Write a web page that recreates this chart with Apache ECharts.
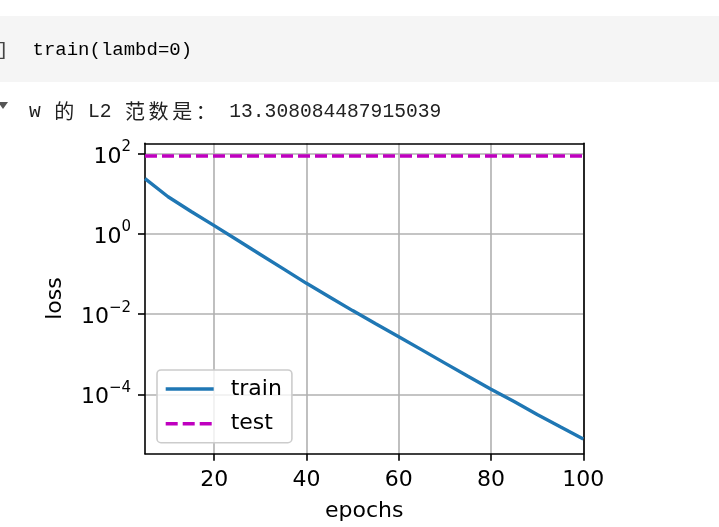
<!DOCTYPE html>
<html><head><meta charset="utf-8">
<script src="https://cdn.jsdelivr.net/npm/echarts@6/dist/echarts.min.js"></script>
<style>html,body{margin:0;padding:0;background:#fff;}#c{width:719px;height:527px;}</style>
</head><body><div id="c"></div>
<script>
// ---- data ----
const epochs = [5,10,15,20,25,30,35,40,45,50,55,60,65,70,75,80,85,90,95,100];
const trainLoss = [24.0,8.51,3.63,1.62,0.708,0.309,0.135,0.0589,0.0269,0.0123,0.00575,0.00275,0.00129,0.000603,0.000282,0.000135,0.0000661,0.0000316,0.0000155,0.00000776];
const testLoss = [88.4,88.2,88.1,88.1,88.0,88.0,88.0,88.0,88.0,88.0,88.0,88.0,88.0,88.0,88.0,88.0,88.0,88.0,88.0,88.0];
const seriesNames = ['train','test'];
const xTickValues = [20,40,60,80,100];
const yTickExponents = [-4,-2,0,2];
const xRange = [5,100];
const yRange = [3.32e-6, 182.8];
const codeLine = ['train','(','lambd=','0',')'];
const outputText = 'w 的 L2 范数是： 13.308084487915039';

// ---- chart ----
const FONT = 'DejaVu Sans';
const MONO = '"Liberation Mono", "DejaVu Sans Mono", monospace';
const CJK = '"Noto Sans CJK SC", sans-serif';
const chart = echarts.init(document.getElementById('c'));
const lx = Math.log10(yRange[0]), hx = Math.log10(yRange[1]);

// output line laid out on a half-width / full-width character grid
const HALF = 11.78;
const outGraphics = [];
let cx = 29;
for (const ch of outputText) {
  const full = ch.charCodeAt(0) > 0x2e80;
  if (ch !== ' ') {
    if (full) {
      outGraphics.push({type: 'text', x: cx + (2 * HALF - 20) / 2, y: 111,
        style: {text: ch, font: '20px ' + CJK, fill: '#222', verticalAlign: 'middle'}});
    } else {
      outGraphics.push({type: 'text', x: cx, y: 112,
        style: {text: ch, font: '19.63px ' + MONO, fill: '#222', verticalAlign: 'middle'}});
    }
  }
  cx += full ? 2 * HALF : HALF;
}

const option = {
  animation: false,
  backgroundColor: '#fff',
  grid: {left: 145, top: 143.3, width: 438.3, height: 310.4, containLabel: false, outerBoundsMode: 'none',
         show: false},
  xAxis: [{
    type: 'value', position: 'bottom', min: xRange[0], max: xRange[1],
    name: 'epochs', nameLocation: 'middle', nameGap: 47,
    nameTextStyle: {fontFamily: FONT, fontSize: 22, color: '#000'},
    axisLine: {show: true, onZero: false, lineStyle: {color: '#000', width: 1.6}},
    axisTick: {show: true, inside: false, length: 7, customValues: xTickValues, lineStyle: {color: '#000', width: 1.6}},
    axisLabel: {show: true, margin: 16, customValues: xTickValues, fontFamily: FONT, fontSize: 22, color: '#000'},
    splitLine: {show: true, lineStyle: {color: '#b0b0b0', width: 1.6}}
  }, {
    type: 'value', position: 'top', min: xRange[0], max: xRange[1], z: 3,
    axisLine: {show: true, onZero: false, lineStyle: {color: '#000', width: 1.6}},
    axisTick: {show: false}, axisLabel: {show: false}, splitLine: {show: false}
  }],
  yAxis: [{
    type: 'log', position: 'right', min: yRange[0], max: yRange[1], z: 3,
    axisLine: {show: true, onZero: false, lineStyle: {color: '#000', width: 1.6}},
    axisTick: {show: false}, axisLabel: {show: false}, splitLine: {show: false}, minorTick: {show: false}
  }, {
    type: 'value', position: 'left', min: lx, max: hx,
    name: 'loss', nameLocation: 'middle', nameGap: 79,
    nameTextStyle: {fontFamily: FONT, fontSize: 22, color: '#000'},
    axisLine: {show: true, onZero: false, lineStyle: {color: '#000', width: 1.6}},
    axisTick: {show: true, inside: false, length: 7, customValues: yTickExponents, lineStyle: {color: '#000', width: 1.6}},
    axisLabel: {show: true, margin: 14, customValues: yTickExponents,
      formatter: v => '{b|10}{s|' + (v < 0 ? '\u2212' + (-v) : String(v)) + '}',
      rich: {
        b: {fontFamily: FONT, fontSize: 22, color: '#000', lineHeight: 28, verticalAlign: 'bottom'},
        s: {fontFamily: FONT, fontSize: 15, color: '#000', lineHeight: 15, verticalAlign: 'top'}
      }},
    splitLine: {show: true, lineStyle: {color: '#b0b0b0', width: 1.6}}
  }],
  legend: {
    data: seriesNames, orient: 'vertical', left: 157, top: 370,
    itemWidth: 48, itemHeight: 20, itemGap: 12.7,
    padding: [8, 10, 8, 7],
    itemStyle: {opacity: 0, borderWidth: 0},
    lineStyle: {width: 3.4},
    backgroundColor: 'rgba(255,255,255,0.8)', borderColor: '#cccccc', borderWidth: 1.6, borderRadius: 4,
    textStyle: {fontFamily: FONT, fontSize: 22, color: '#000', padding: [0, 0, 0, 12]}
  },
  series: [{
    name: seriesNames[0], type: 'line', xAxisIndex: 0, yAxisIndex: 0, symbol: 'none', showSymbol: false,
    data: epochs.map((e, i) => [e, trainLoss[i]]),
    lineStyle: {color: '#1f77b4', width: 3.4}, itemStyle: {color: '#1f77b4'}
  }, {
    name: seriesNames[1], type: 'line', xAxisIndex: 0, yAxisIndex: 0, symbol: 'none', showSymbol: false,
    data: epochs.map((e, i) => [e, testLoss[i]]),
    lineStyle: {color: '#bf00bf', width: 3.4, type: [12, 5]}, itemStyle: {color: '#bf00bf'}
  }],
  graphic: [
    {type: 'rect', shape: {x: 0, y: 16, width: 719, height: 66}, style: {fill: '#f5f5f5'}, z: -10, silent: true},
    {type: 'text', x: -3, y: 50, style: {text: ']', font: '19px ' + MONO, fill: '#444', verticalAlign: 'middle'}},
    {type: 'text', x: 32.5, y: 50, style: {
      text: '{n|' + codeLine[0] + '}{p|' + codeLine[1] + '}{n|' + codeLine[2] + '}{g|' + codeLine[3] + '}{p|' + codeLine[4] + '}',
      verticalAlign: 'middle',
      rich: {
        n: {fontFamily: MONO, fontSize: 19, color: '#222'},
        p: {fontFamily: MONO, fontSize: 19, color: '#4a7dff'},
        g: {fontFamily: MONO, fontSize: 19, color: '#1f7a55'}
      }}},
    {type: 'polygon', shape: {points: [[-2, 102], [8, 102], [3, 109]]}, style: {fill: '#555'}}
  ].concat(outGraphics)
};
chart.setOption(option);
</script>
</body></html>
